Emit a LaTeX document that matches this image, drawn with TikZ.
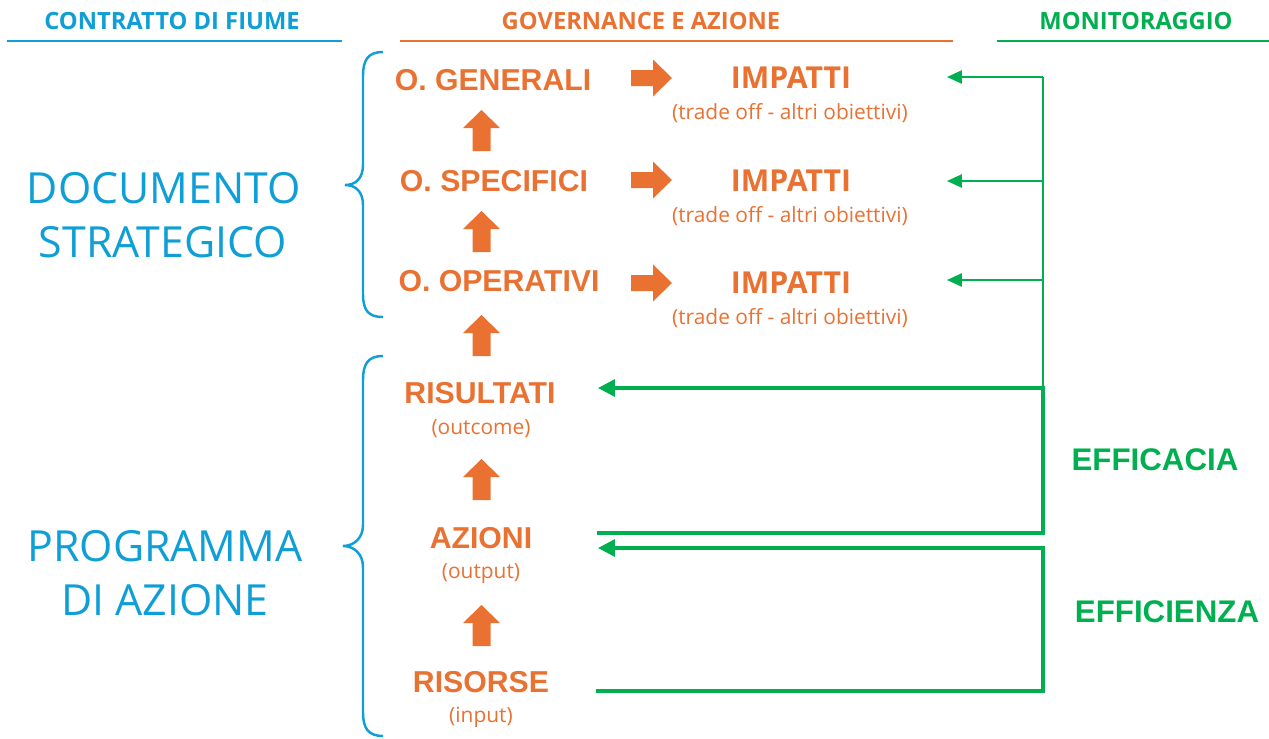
\documentclass[tikz,border=0pt]{standalone}
\usepackage{fontspec}
\setmainfont{Open Sans}
\newfontfamily\ari{Liberation Sans}
\usetikzlibrary{arrows.meta}
\definecolor{cblue}{HTML}{0F9ED5}
\definecolor{corng}{HTML}{E97132}
\definecolor{cgreen}{HTML}{00B050}
\begin{document}
\begin{tikzpicture}[x=0.02cm,y=-0.02cm,
  hdr/.style={font=\fontsize{13.5}{16}\selectfont\bfseries, inner sep=0},
  bigtxt/.style={text=cblue, font=\fontsize{24.4}{29}\selectfont, inner sep=0},
  lvl/.style={text=corng, font=\ari\fontsize{17.2}{20}\selectfont\bfseries, inner sep=0},
  imp/.style={text=corng, font=\fontsize{17.2}{20}\selectfont\bfseries, inner sep=0},
  subtxt/.style={text=corng, font=\fontsize{11.9}{14}\selectfont, inner sep=0},
  mon/.style={text=cgreen, font=\ari\fontsize{17.8}{21}\selectfont\bfseries, inner sep=0},
  hline/.style={line width=1.2pt},
  bracestyle/.style={draw=cblue, line width=1.4pt},
  blockarr/.style={fill=corng, draw=none},
  gthin/.style={draw=cgreen, line width=1.1pt},
  gthick/.style={draw=cgreen, line width=1.9pt},
  tipthin/.style={-{Triangle[length=8.5pt,width=7.5pt]}},
  tipthick/.style={-{Triangle[length=9.6pt,width=9.6pt]}}
]
\useasboundingbox (0,0) rectangle (1269,738);

% headers
\node[hdr, text=cblue] (h1) at (172,21) {CONTRATTO DI FIUME};
\node[hdr, text=corng] (h2) at (641,21) {GOVERNANCE E AZIONE};
\node[hdr, text=cgreen] (h3) at (1136,21) {MONITORAGGIO};
\draw[hline, cblue] (7,41) -- (342,41);
\draw[hline, corng] (400,41) -- (953,41);
\draw[hline, cgreen] (997,41) -- (1269,41);

% left titles
\node[bigtxt] (d1) at (164,188) {DOCUMENTO};
\node[bigtxt] (d2) at (163,242) {STRATEGICO};
\node[bigtxt] (p1) at (165,546) {PROGRAMMA};
\node[bigtxt] (p2) at (165,600) {DI AZIONE};

% braces
\draw[bracestyle] (383,52) .. controls (368,52) and (363,60) .. (363,76) -- (363,165)
  .. controls (363,178) and (356,185) .. (345,185)
  .. controls (356,185) and (363,192) .. (363,205) -- (363,294)
  .. controls (363,310) and (368,317) .. (383,317);
\draw[bracestyle] (383,356) .. controls (368,356) and (363,364) .. (363,380) -- (363,525)
  .. controls (363,538) and (354,546) .. (343,546)
  .. controls (354,546) and (363,554) .. (363,567) -- (363,712)
  .. controls (363,728) and (368,736) .. (383,736);

% levels
\node[lvl] (og) at (493,80) {O. GENERALI};
\node[lvl] (os) at (494,181) {O. SPECIFICI};
\node[lvl] (oo) at (499,281) {O. OPERATIVI};
\node[lvl] (ri) at (480,393) {RISULTATI};
\node[subtxt] (ris) at (481,429) {(outcome)};
\node[lvl] (az) at (481,538) {AZIONI};
\node[subtxt] (azs) at (481,574) {(output)};
\node[lvl] (rs) at (481,682) {RISORSE};
\node[subtxt] (rss) at (481,717) {(input)};

% impatti
\foreach \y/\n in {78/1,181/2,283/3}{
  \node[imp] (imp\n) at (791,\y) {IMPATTI};
  \node[subtxt] (imps\n) at (790,{\y+35}) {(trade off - altri obiettivi)};
}

% up block arrows
\foreach \t in {110,211,315,459,605}{
  \fill[blockarr] (472.5,{\t+41}) -- (472.5,{\t+18}) -- (463,{\t+18}) -- (481.5,\t)
    -- (500,{\t+18}) -- (490.5,{\t+18}) -- (490.5,{\t+41}) -- cycle;
}
% right block arrows
\foreach \c in {78,180,283}{
  \fill[blockarr] (631,{\c-8}) -- (653,{\c-8}) -- (653,{\c-18.5}) -- (672,\c)
    -- (653,{\c+18.5}) -- (653,{\c+8}) -- (631,{\c+8}) -- cycle;
}

% monitoring connectors
\coordinate (v1) at (1043,77);
\coordinate (v2) at (1043,181);
\coordinate (v3) at (1043,280);
\coordinate (vr) at (1043,388);
\coordinate (t1) at (947,77);
\coordinate (t2) at (947,181);
\coordinate (t3) at (947,280);
\coordinate (rin) at (598,388);
\coordinate (aout) at (597,533);
\coordinate (ca) at (1043,533);
\coordinate (ain) at (598,548);
\coordinate (cb) at (1043,548);
\coordinate (rout) at (596,691);
\coordinate (cc) at (1043,691);

\draw[gthin] (v1) -- (vr);
\draw[gthin, tipthin] (v1) -- (t1);
\draw[gthin, tipthin] (v2) -- (t2);
\draw[gthin, tipthin] (v3) -- (t3);
\draw[gthick, tipthick] (aout) -- (ca) -- (vr) -- (rin);
\draw[gthick, tipthick] (rout) -- (cc) -- (cb) -- (ain);

\node[mon] (eff1) at (1155,460) {EFFICACIA};
\node[mon] (eff2) at (1167,612) {EFFICIENZA};
\end{tikzpicture}
\end{document}
